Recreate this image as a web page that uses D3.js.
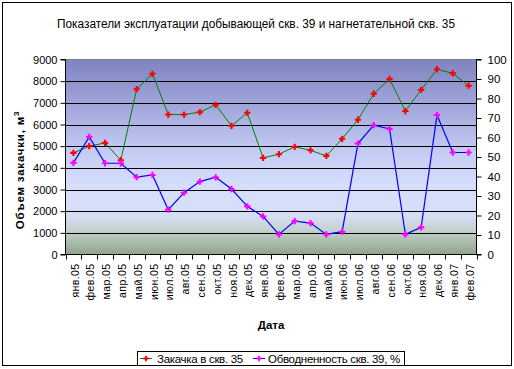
<!DOCTYPE html>
<html><head><meta charset="utf-8">
<script src="https://cdn.jsdelivr.net/npm/d3@7"></script>
<style>body{margin:0;background:#fff}svg{display:block;font-family:"Liberation Sans",Arial,sans-serif}</style>
</head><body>
<svg id="c" width="514" height="369"></svg>
<script>
const categories = ["янв.05","фев.05","мар.05","апр.05","май.05","июн.05","июл.05","авг.05","сен.05","окт.05","ноя.05","дек.05",
  "янв.06","фев.06","мар.06","апр.06","май.06","июн.06","июл.06","авг.06","сен.06","окт.06","ноя.06","дек.06","янв.07","фев.07"];
const injection = [4690,5000,5150,4350,7630,8340,6460,6460,6570,6910,5940,6540,4460,4630,4970,4810,4550,5340,6220,7420,8100,6620,7600,8550,8360,7790];
const watercut = [47,60.3,46.8,46.8,39.7,40.8,23,31.7,37.4,39.6,33.6,24.7,19.5,10.3,17.1,16.1,10.3,11.7,56.9,66.3,64.4,10.3,13.9,71.5,52.3,52.3];
const leftTicks = [0,1000,2000,3000,4000,5000,6000,7000,8000,9000];
const rightTicks = [0,10,20,30,40,50,60,70,80,90,100];
const title = "Показатели эксплуатации добывающей скв. 39 и нагнетательной скв. 35";
const seriesNames = ["Закачка в скв. 35","Обводненность скв. 39, %"];

const svg = d3.select("#c");
const L = 65.5, R = 476.5, T = 59.5, B = 254.5;
const x = d3.scaleBand().domain(categories).range([L, R]).paddingInner(0).paddingOuter(0);
const yL = d3.scaleLinear().domain([0, 9000]).range([B, T]);
const yR = d3.scaleLinear().domain([0, 100]).range([B, T]);

// outer border
svg.append("rect").attr("x",2.5).attr("y",2.5).attr("width",509).attr("height",363)
  .attr("fill","#fff").attr("stroke","#000");

// gradient
const defs = svg.append("defs");
const g = defs.append("linearGradient").attr("id","bg").attr("x1",0).attr("y1",0).attr("x2",0).attr("y2",1);
[[0,"#7f83c0"],[0.25,"#a3a8dc"],[0.5,"#c8cff6"],[0.65,"#d6defc"],[0.8,"#d6def6"],[0.88,"#c4d0cc"],[1,"#8ea48a"]]
  .forEach(([o,c])=>g.append("stop").attr("offset",o).attr("stop-color",c));
svg.append("rect").attr("x",L).attr("y",T).attr("width",R-L).attr("height",B-T).attr("fill","url(#bg)");
svg.append("line").attr("x1",L).attr("x2",R).attr("y1",T).attr("y2",T).attr("stroke","#808080");

// gridlines
svg.append("g").selectAll("line").data(leftTicks.filter(d=>d>0 && d<9000)).join("line")
  .attr("x1",L).attr("x2",R).attr("y1",d=>Math.round(yL(d))+0.5).attr("y2",d=>Math.round(yL(d))+0.5)
  .attr("stroke","#000");

// left axis
const la = svg.append("g").attr("transform",`translate(${L},0)`)
  .call(d3.axisLeft(yL).tickValues(leftTicks).tickSize(5).tickPadding(3).tickFormat(d3.format("d")));
la.selectAll("text").attr("font-size",11).attr("fill","#000").attr("font-family","Liberation Sans, Arial");
la.selectAll("line,path").attr("stroke","#000");
la.select(".domain").attr("d",`M-5,${B}H0V${T}H-5`);

// right axis
const ra = svg.append("g").attr("transform",`translate(${R},0)`)
  .call(d3.axisRight(yR).tickValues(rightTicks).tickSize(5).tickPadding(6).tickFormat(d3.format("d")));
ra.selectAll("text").attr("font-size",11.5).attr("fill","#000").attr("font-family","Liberation Sans, Arial");
ra.selectAll("line,path").attr("stroke","#000");
ra.select(".domain").attr("d",`M5,${B}H0V${T}H5`);

// x axis
const xa = svg.append("g").attr("transform",`translate(0,${B})`);
xa.append("line").attr("x1",L).attr("x2",R).attr("stroke","#000");
const bounds = categories.map(c=>x(c)).concat([R]);
xa.selectAll("line.t").data(bounds).join("line").attr("class","t")
  .attr("x1",d=>Math.round(d)+0.5).attr("x2",d=>Math.round(d)+0.5).attr("y1",0).attr("y2",5).attr("stroke","#000");
xa.selectAll("text").data(categories).join("text")
  .attr("transform",d=>`translate(${x(d)+x.bandwidth()/2+1.5},9) rotate(-90)`)
  .attr("text-anchor","end").attr("dy","0.35em").attr("font-size",10.5).attr("letter-spacing",0.4)
  .text(d=>d);

// lines
const cx = d => x(d) + x.bandwidth()/2;
svg.append("path").datum(injection).attr("fill","none").attr("stroke","#008000").attr("stroke-width",1)
  .attr("d", d3.line().x((d,i)=>cx(categories[i])).y(d=>yL(d)));
svg.append("path").datum(watercut).attr("fill","none").attr("stroke","#0000ff").attr("stroke-width",1.2)
  .attr("d", d3.line().x((d,i)=>cx(categories[i])).y(d=>yR(d)));
const sym = d3.symbol().type(d3.symbolCross).size(22);
svg.append("g").selectAll("path").data(injection).join("path")
  .attr("transform",(d,i)=>`translate(${cx(categories[i])},${yL(d)})`).attr("d",sym).attr("fill","#ff0000");
svg.append("g").selectAll("path").data(watercut).join("path")
  .attr("transform",(d,i)=>`translate(${cx(categories[i])},${yR(d)})`).attr("d",sym).attr("fill","#ff00ff");

// title
svg.append("text").attr("x",256).attr("y",28).attr("text-anchor","middle").attr("font-size",12.5)
  .attr("textLength",398).attr("lengthAdjust","spacingAndGlyphs").text(title);

// axis titles
svg.append("text").attr("x",271).attr("y",329).attr("text-anchor","middle").attr("font-size",11.5)
  .attr("font-weight","bold").text("Дата");
const yt = svg.append("text").attr("transform","translate(24,170) rotate(-90)").attr("text-anchor","middle")
  .attr("font-size",11.5).attr("font-weight","bold").attr("letter-spacing",0.8);
yt.append("tspan").text("Объем закачки, м");
yt.append("tspan").attr("font-size",8).attr("dy",-5).text("3");

// legend
const lg = svg.append("g");
lg.append("rect").attr("x",137.5).attr("y",351.5).attr("width",267).attr("height",14).attr("fill","#fff").attr("stroke","#000");
const items = [{n:seriesNames[0],lc:"#008000",mc:"#ff0000",x:140,tx:157},{n:seriesNames[1],lc:"#0000ff",mc:"#ff00ff",x:253,tx:268}];
items.forEach(it=>{
  lg.append("line").attr("x1",it.x).attr("x2",it.x+12).attr("y1",358.5).attr("y2",358.5).attr("stroke",it.lc);
  lg.append("path").attr("transform",`translate(${it.x+6},358.5)`).attr("d",d3.symbol().type(d3.symbolCross).size(16)).attr("fill",it.mc);
  lg.append("text").attr("x",it.tx).attr("y",362.5).attr("font-size",11.5).attr("letter-spacing",-0.3).text(it.n);
});
</script>
</body></html>
